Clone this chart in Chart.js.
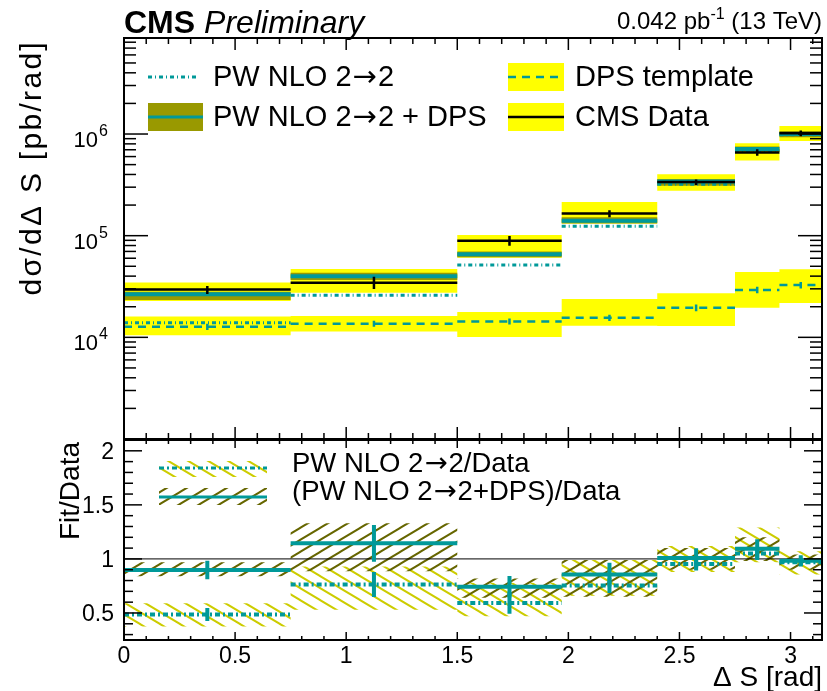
<!DOCTYPE html>
<html lang="en">
<head>
<meta charset="UTF-8">
<title>CMS Preliminary - dsigma/dDeltaS</title>
<script src="https://cdn.jsdelivr.net/npm/chart.js"></script>
<style>
    body { margin: 0; background: #fff; }
    #wrap { position: relative; width: 827px; height: 691px; }
    #wrap canvas { position: absolute; left: 0; top: 0; }
</style>
</head>
<body>
<div id="wrap">
    <canvas id="topChart" width="827" height="691"></canvas>
    <canvas id="ratioChart" width="827" height="691"></canvas>
</div>
<script>
// ---------- data ----------
const binEdges   = [0, 0.75, 1.5, 1.97, 2.4, 2.75, 2.95, Math.PI];
const binCenters = [0.375, 1.125, 1.735, 2.185, 2.575, 2.85, 3.046];

// upper panel, dsigma/dDeltaS in pb/rad
const cmsData     = [29600, 34400, 89300, 165000, 338000, 659000, 1018000];
const cmsStatLo   = [26700, 29900, 79800, 152000, 315000, 610000, 950000];
const cmsStatHi   = [31900, 39500, 99300, 178000, 356000, 708000, 1080000];
const cmsSystLo   = [22800, 27500, 60700, 132000, 276000, 550000, 855000];
const cmsSystHi   = [34600, 47000, 101600, 215000, 403000, 811000, 1200000];
const pwNlo       = [13900, 26000, 51500, 124000, 320000, 690000, 985000];
const pwNloDps    = [26500, 40000, 65600, 140600, 341000, 713000, 1000000];
const pwNloDpsLo  = [23300, 36600, 61200, 132000, 310000, 671000, 930000];
const pwNloDpsHi  = [28100, 43300, 69700, 152000, 362000, 752000, 1070000];
const dpsTemplate = [12700, 13600, 14300, 15600, 19500, 29200, 32700];
const dpsStatLo   = [11800, 12700, 13400, 14500, 18100, 27100, 30300];
const dpsStatHi   = [13600, 14600, 15300, 16700, 21000, 31400, 35100];
const dpsBandLo   = [10500, 11400, 10100, 13000, 12900, 19500, 21800];
const dpsBandHi   = [16000, 16200, 17800, 23800, 27100, 44000, 46700];

// lower panel, Fit/Data
const ratioPw        = [0.485, 0.763, 0.593, 0.755, 0.954, 1.049, 0.97];
const ratioPwErr     = [0.06, 0.115, 0.1, 0.07, 0.06, 0.06, 0.04];
const ratioPwLo      = [0.376, 0.53, 0.47, 0.66, 0.88, 0.97, 0.855];
const ratioPwHi      = [0.59, 0.93, 0.78, 0.99, 1.12, 1.29, 1.07];
const ratioPwDps     = [0.898, 1.144, 0.743, 0.855, 1.009, 1.093, 0.984];
const ratioPwDpsErr  = [0.085, 0.17, 0.1, 0.11, 0.09, 0.09, 0.05];
const ratioPwDpsLo   = [0.84, 0.885, 0.64, 0.65, 0.90, 0.98, 0.90];
const ratioPwDpsHi   = [0.97, 1.33, 0.82, 0.99, 1.10, 1.20, 1.04];

// axes / labels
const xTicks       = [0, 0.5, 1, 1.5, 2, 2.5, 3];
const xTickLabels  = ['0', '0.5', '1', '1.5', '2', '2.5', '3'];
const logExponents = [4, 5, 6];
const ratioTicks   = [0.5, 1, 1.5, 2];
const ratioLabels  = ['0.5', '1', '1.5', '2'];
const legendTop    = ['PW NLO 2\u21922', 'PW NLO 2\u21922 + DPS', 'DPS template', 'CMS Data'];
const legendRatio  = ['PW NLO 2\u21922/Data', '(PW NLO 2\u21922+DPS)/Data'];

// ---------- style ----------
const FONT   = '"Liberation Sans", Arial, Helvetica, sans-serif';
const SYMFONT = '"DejaVu Sans", sans-serif';
const TEAL   = '#009999';
const OLIVE  = '#999900';
const YELLOW = '#ffff00';

Chart.defaults.elements.point.radius = 0;
Chart.defaults.elements.line.tension = 0;

// ---------- helpers ----------
// stepped outline: value of bin i from edge i to edge i+1
function steps(vals) {
    const pts = vals.map((v, i) => ({x: binEdges[i], y: v}));
    pts.push({x: binEdges[binEdges.length - 1], y: vals[vals.length - 1]});
    return pts;
}
// separate horizontal segment per bin
function segs(vals) {
    const pts = [];
    vals.forEach((v, i) => {
        pts.push({x: binEdges[i], y: v}, {x: binEdges[i + 1], y: v}, {x: binEdges[i + 1], y: null});
    });
    return pts;
}
// vertical error bar per bin centre
function bars(lo, hi) {
    const pts = [];
    binCenters.forEach((c, i) => {
        pts.push({x: c, y: lo[i]}, {x: c, y: hi[i]}, {x: c, y: null});
    });
    return pts;
}
function band(lo, hi, fillStyle, order) {
    return [
        {data: steps(hi), stepped: 'before', borderColor: 'transparent', borderWidth: 0, fill: false, order: order},
        {data: steps(lo), stepped: 'before', borderColor: 'transparent', borderWidth: 0, fill: '-1', backgroundColor: fillStyle, order: order}
    ];
}
function hatchPattern(color, dir) {
    const w = 20, h = 12;
    const c = document.createElement('canvas');
    c.width = w; c.height = h;
    const g = c.getContext('2d');
    g.strokeStyle = color;
    g.lineWidth = 2;
    g.beginPath();
    for (const dx of [-w, 0, w]) {
        if (dir === 'down') { g.moveTo(dx - w, -h); g.lineTo(dx + 2 * w, 2 * h); }
        else { g.moveTo(dx - w, 2 * h); g.lineTo(dx + 2 * w, -h); }
    }
    g.stroke();
    return g.createPattern(c, 'repeat');
}
function seg(ctx, x1, y1, x2, y2) {
    ctx.beginPath(); ctx.moveTo(x1, y1); ctx.lineTo(x2, y2); ctx.stroke();
}
function txt(ctx, s, x, y, size, align, style) {
    ctx.font = (style || '') + ' ' + size + 'px ' + FONT;
    ctx.textAlign = align || 'left';
    ctx.textBaseline = 'alphabetic';
    ctx.fillStyle = '#000';
    ctx.fillText(s, x, y);
    return ctx.measureText(s).width;
}
// left-aligned text where the arrow comes from a font with a full-size arrow
function arrowTxt(ctx, s, x, y, size) {
    const parts = s.split('\u2192');
    let cx = x;
    parts.forEach((p, i) => {
        cx += txt(ctx, p, cx, y, size);
        if (i < parts.length - 1) {
            ctx.font = size + 'px ' + SYMFONT;
            ctx.textAlign = 'left';
            ctx.fillText('\u2192', cx + 1, y);
            cx += ctx.measureText('\u2192').width + 2;
        }
    });
}

const yellowHatch = hatchPattern('#cccc00', 'down');
const oliveHatch  = hatchPattern('#666600', 'up');

// ---------- decorations (frame, inward ticks, labels, legend) ----------
const topDecor = {
    id: 'topDecor',
    afterDraw(chart) {
        const ctx = chart.ctx, a = chart.chartArea, xs = chart.scales.x, ys = chart.scales.y;
        ctx.save();
        ctx.strokeStyle = '#000';
        ctx.lineWidth = 1.5;
        for (let i = 1; i <= 31; i++) {
            const px = xs.getPixelForValue(i / 10);
            const len = i % 5 === 0 ? 12 : 6;
            seg(ctx, px, a.bottom, px, a.bottom - len);
            seg(ctx, px, a.top, px, a.top + len);
        }
        for (let e = 3; e <= 6; e++) {
            for (let m = 1; m <= 9; m++) {
                const v = m * Math.pow(10, e);
                if (v <= ys.min || v >= ys.max) continue;
                const py = ys.getPixelForValue(v);
                const len = m === 1 ? 24 : 12;
                seg(ctx, a.left, py, a.left + len, py);
                seg(ctx, a.right, py, a.right - len, py);
            }
        }
        ctx.lineWidth = 2;
        ctx.strokeRect(a.left, a.top, a.right - a.left, a.bottom - a.top);

        // log labels 10^n
        logExponents.forEach(e => {
            const py = ys.getPixelForValue(Math.pow(10, e));
            txt(ctx, '10', 98, py + 13, 22, 'right');
            txt(ctx, String(e), 99, py + 2, 16, 'left');
        });

        // header
        const wc = txt(ctx, 'CMS', a.left, 33, 32, 'left', 'bold');
        txt(ctx, 'Preliminary', a.left + wc + 9, 33, 32, 'left', 'italic');
        ctx.font = '24px ' + FONT;
        const w1 = ctx.measureText('0.042 pb').width;
        const w3 = ctx.measureText(' (13 TeV)').width;
        ctx.font = '16px ' + FONT;
        const w2 = ctx.measureText('-1').width;
        let lx = a.right - (w1 + w2 + w3);
        txt(ctx, '0.042 pb', lx, 29, 24);
        txt(ctx, '-1', lx + w1, 19, 16);
        txt(ctx, ' (13 TeV)', lx + w1 + w2, 29, 24);

        // y title
        ctx.save();
        ctx.translate(41, 40);
        ctx.rotate(-Math.PI / 2);
        ctx.letterSpacing = '2.3px';
        txt(ctx, 'd\u03c3/d\u0394 S [pb/rad]', 0, 0, 30, 'right');
        ctx.restore();

        // legend
        ctx.lineWidth = 3;
        ctx.strokeStyle = TEAL;
        ctx.setLineDash([4, 3, 1, 3]);
        seg(ctx, 148, 77, 197, 77);
        ctx.setLineDash([]);
        ctx.fillStyle = OLIVE;
        ctx.fillRect(148, 103, 55, 28);
        ctx.strokeStyle = TEAL;
        seg(ctx, 148, 117, 203, 117);
        ctx.fillStyle = YELLOW;
        ctx.fillRect(508, 63, 56, 28);
        ctx.fillRect(508, 103, 56, 28);
        ctx.setLineDash([8, 6]);
        ctx.lineWidth = 2.5;
        seg(ctx, 508, 77, 564, 77);
        ctx.setLineDash([]);
        ctx.strokeStyle = '#000';
        seg(ctx, 508, 117, 564, 117);
        arrowTxt(ctx, legendTop[0], 213, 86, 29);
        arrowTxt(ctx, legendTop[1], 213, 126, 29);
        txt(ctx, legendTop[2], 575, 86, 29);
        txt(ctx, legendTop[3], 575, 126, 29);
        ctx.restore();
    }
};

const ratioDecor = {
    id: 'ratioDecor',
    afterDraw(chart) {
        const ctx = chart.ctx, a = chart.chartArea, xs = chart.scales.x, ys = chart.scales.y;
        ctx.save();
        ctx.strokeStyle = '#000';
        ctx.lineWidth = 1.5;
        for (let i = 1; i <= 31; i++) {
            const px = xs.getPixelForValue(i / 10);
            const len = i % 5 === 0 ? 8 : 4;
            seg(ctx, px, a.bottom, px, a.bottom - len);
            seg(ctx, px, a.top, px, a.top + len);
        }
        for (let i = 3; i <= 20; i++) {
            const py = ys.getPixelForValue(i / 10);
            const len = i % 5 === 0 ? 18 : 9;
            seg(ctx, a.left, py, a.left + len, py);
            seg(ctx, a.right, py, a.right - len, py);
        }
        ctx.lineWidth = 2;
        ctx.strokeRect(a.left, a.top, a.right - a.left, a.bottom - a.top);

        xTicks.forEach((v, i) => txt(ctx, xTickLabels[i], xs.getPixelForValue(v), 663, 23, 'center'));
        ratioTicks.forEach((v, i) => txt(ctx, ratioLabels[i], 114, ys.getPixelForValue(v) + 8, 23, 'right'));

        txt(ctx, '\u0394 S [rad]', a.right, 686, 28, 'right');
        ctx.save();
        ctx.translate(79, 442);
        ctx.rotate(-Math.PI / 2);
        txt(ctx, 'Fit/Data', 0, 0, 28, 'right');
        ctx.restore();

        // legend
        ctx.fillStyle = yellowHatch;
        ctx.fillRect(159, 461, 108, 16);
        ctx.fillStyle = oliveHatch;
        ctx.fillRect(159, 488, 108, 17);
        ctx.strokeStyle = TEAL;
        ctx.lineWidth = 3;
        ctx.setLineDash([5, 3, 2, 3]);
        seg(ctx, 159, 468, 267, 468);
        ctx.setLineDash([]);
        seg(ctx, 159, 497, 267, 497);
        arrowTxt(ctx, legendRatio[0], 292, 472, 27.5);
        arrowTxt(ctx, legendRatio[1], 292, 500, 27.5);
        ctx.restore();
    }
};

const commonOptions = (padding, yScale) => ({
    responsive: false,
    animation: false,
    devicePixelRatio: 1,
    events: [],
    layout: {padding: padding},
    plugins: {legend: {display: false}, tooltip: {enabled: false}},
    scales: {
        x: {type: 'linear', min: 0, max: Math.PI, display: false},
        y: yScale
    }
});

// ---------- upper panel ----------
new Chart(document.getElementById('topChart'), {
    type: 'line',
    data: {
        datasets: [
            ...band(cmsSystLo, cmsSystHi, YELLOW, 20),
            ...band(dpsBandLo, dpsBandHi, YELLOW, 19),
            ...band(pwNloDpsLo, pwNloDpsHi, OLIVE, 18),
            {data: segs(pwNlo), borderColor: TEAL, borderWidth: 3, borderDash: [4, 3, 1, 3], order: 6},
            {data: segs(dpsTemplate), borderColor: TEAL, borderWidth: 2.5, borderDash: [8, 6], order: 6},
            {data: bars(dpsStatLo, dpsStatHi), borderColor: TEAL, borderWidth: 2.5, order: 6},
            {data: segs(pwNloDps), borderColor: TEAL, borderWidth: 4, order: 4},
            {data: segs(cmsData), borderColor: '#000', borderWidth: 2.5, order: 1},
            {data: bars(cmsStatLo, cmsStatHi), borderColor: '#000', borderWidth: 2.5, order: 1}
        ]
    },
    options: commonOptions({left: 124, right: 5, top: 38, bottom: 252},
        {type: 'logarithmic', min: 1000, max: 8.8e6, display: false}),
    plugins: [topDecor]
});

// ---------- ratio panel ----------
const pwErrLo = ratioPw.map((v, i) => v - ratioPwErr[i]);
const pwErrHi = ratioPw.map((v, i) => v + ratioPwErr[i]);
const pdErrLo = ratioPwDps.map((v, i) => v - ratioPwDpsErr[i]);
const pdErrHi = ratioPwDps.map((v, i) => v + ratioPwDpsErr[i]);

new Chart(document.getElementById('ratioChart'), {
    type: 'line',
    data: {
        datasets: [
            ...band(ratioPwLo, ratioPwHi, yellowHatch, 20),
            ...band(ratioPwDpsLo, ratioPwDpsHi, oliveHatch, 19),
            {data: [{x: 0, y: 1}, {x: Math.PI, y: 1}], borderColor: '#000', borderWidth: 1, order: 10},
            {data: segs(ratioPw), borderColor: TEAL, borderWidth: 4, borderDash: [5, 3, 2, 3], order: 6},
            {data: bars(pwErrLo, pwErrHi), borderColor: TEAL, borderWidth: 4, order: 6},
            {data: segs(ratioPwDps), borderColor: TEAL, borderWidth: 4, order: 4},
            {data: bars(pdErrLo, pdErrHi), borderColor: TEAL, borderWidth: 4, order: 4}
        ]
    },
    options: commonOptions({left: 124, right: 5, top: 440, bottom: 51},
        {type: 'linear', min: 0.25, max: 2.1, display: false}),
    plugins: [ratioDecor]
});
</script>
</body>
</html>
